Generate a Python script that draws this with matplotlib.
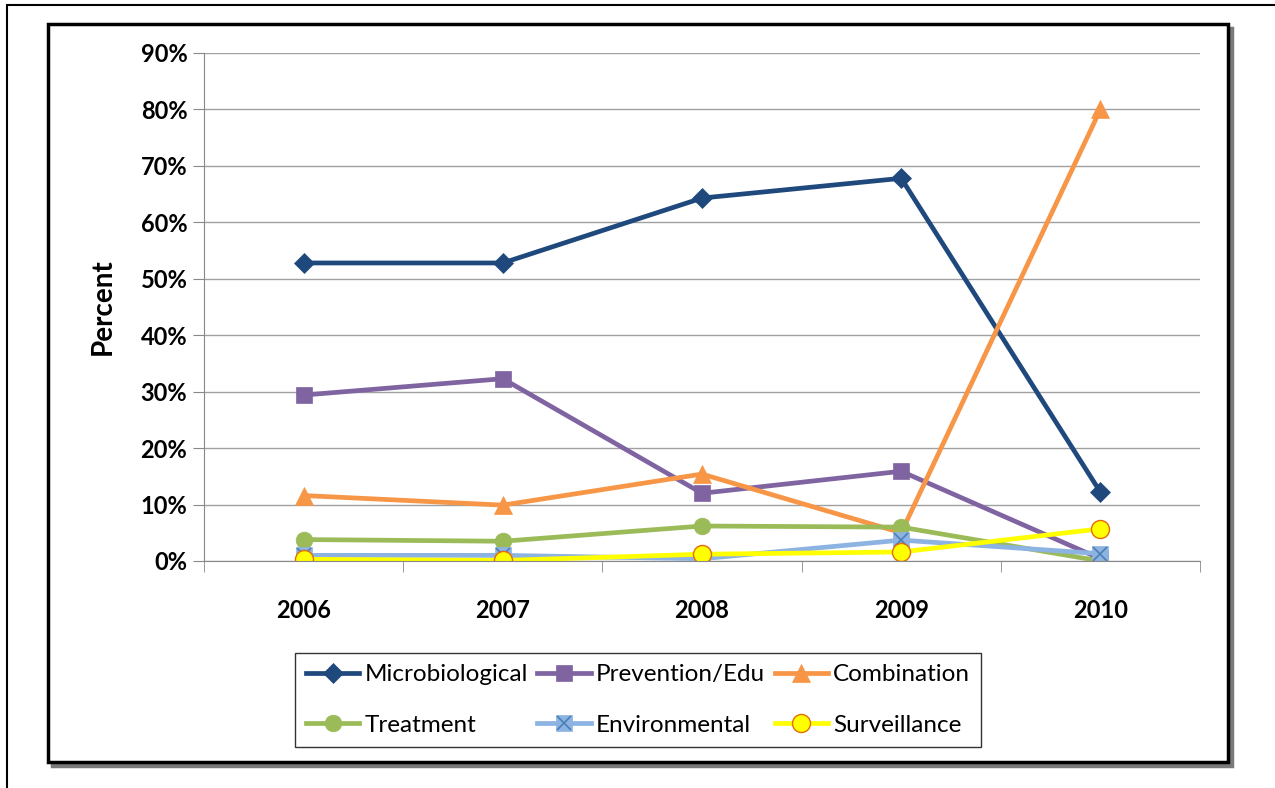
import matplotlib.pyplot as plt
from matplotlib.patches import Rectangle
from matplotlib.ticker import FixedLocator, PercentFormatter

plt.rcParams['font.family'] = ['Lato', 'DejaVu Sans']

years = ['2006', '2007', '2008', '2009', '2010']
microbiological = [52.8, 52.8, 64.3, 67.8, 12.2]
prevention = [29.4, 32.3, 12.0, 15.9, 0.4]
combination = [11.6, 9.9, 15.4, 5.0, 80.0]
treatment = [3.8, 3.5, 6.2, 6.0, 0.0]
environmental = [1.0, 1.0, 0.4, 3.7, 1.3]
surveillance = [0.3, 0.1, 1.2, 1.6, 5.7]

W, H = 1275, 788
fig = plt.figure(figsize=(W / 100, H / 100), dpi=100)

# outer frame and chart box with shadow
fig.patches.append(Rectangle((7 / W, -0.1), 2, 1 - 5 / H + 0.1, transform=fig.transFigure,
                             fill=False, ec='black', lw=1.5, zorder=-10))
fig.patches.append(Rectangle((52 / W, 1 - 766 / H), 1180 / W, 738 / H, transform=fig.transFigure,
                             fc='#7a7a7a', ec='#7a7a7a', lw=2.5, zorder=-9))
fig.patches.append(Rectangle((48 / W, 1 - 762 / H), 1180 / W, 738 / H, transform=fig.transFigure,
                             fc='white', ec='black', lw=2.5, zorder=-8))

ax = fig.add_axes([204 / W, 1 - 561 / H, 996 / W, 508 / H])
ax.patch.set_alpha(0)
x = range(1, len(years) + 1)

series = [
    ('Microbiological', microbiological, '#1f497d', 'D', 10, '#1f497d'),
    ('Prevention/Edu', prevention, '#8064a2', 's', 12, '#8064a2'),
    ('Combination', combination, '#f79646', '^', 13, '#f79646'),
    ('Treatment', treatment, '#9bbb59', 'o', 12, '#9bbb59'),
    ('Environmental', environmental, '#8db3e2', 's', 12, '#8db3e2'),
    ('Surveillance', surveillance, '#ffff00', 'o', 13, '#e46c0a'),
]
handles = []
for name, vals, col, mk, ms, mec in series:
    h, = ax.plot(x, vals, color=col, lw=3.4, marker=mk, ms=ms, mfc=col, mec=mec,
                 mew=1 if mec != col else 0.5, label=name)
    if name == 'Environmental':
        # square marker with a cross inside
        hx, = ax.plot(x, vals, ls='none', marker='x', ms=10, mec='#4a7fb5', mew=1.2)
        h = (h, hx)
    handles.append((h, name))

ax.set_xlim(0.5, len(years) + 0.5)
ax.set_ylim(0, 90)
ax.yaxis.set_major_locator(FixedLocator(range(0, 91, 10)))
ax.yaxis.set_major_formatter(PercentFormatter(decimals=0))
ax.set_xticks(list(x))
ax.set_xticklabels(years)
ax.xaxis.set_minor_locator(FixedLocator([i + 0.5 for i in range(0, len(years) + 1)]))
ax.tick_params(axis='x', which='major', length=0, pad=27, labelsize=17)
ax.tick_params(axis='x', which='minor', length=8, color='#888888', direction='out')
ax.tick_params(axis='y', length=8, color='#888888', labelsize=17, pad=4)
for lbl in ax.get_xticklabels() + ax.get_yticklabels():
    lbl.set_fontweight('bold')
ax.grid(axis='y', color='#a0a0a0', lw=1)
ax.set_axisbelow(True)
for s in ['top', 'right']:
    ax.spines[s].set_visible(False)
ax.spines['left'].set_color('#888888')
ax.spines['bottom'].set_color('#888888')
ax.set_ylabel('Percent', fontsize=20, fontweight='bold', labelpad=18)

# legend filled row by row, like the original
order = [0, 3, 1, 4, 2, 5]
leg = fig.legend([handles[i][0] for i in order], [handles[i][1] for i in order],
                 loc='center', bbox_to_anchor=(638 / W, 1 - 700 / H), ncol=3, fontsize=17.5,
                 frameon=True, fancybox=False, edgecolor='black', handlelength=2.2,
                 handletextpad=0.2, columnspacing=0.4, labelspacing=1.2, borderpad=0.45)
leg.get_frame().set_linewidth(1)

fig.savefig('out.png', dpi=100)
